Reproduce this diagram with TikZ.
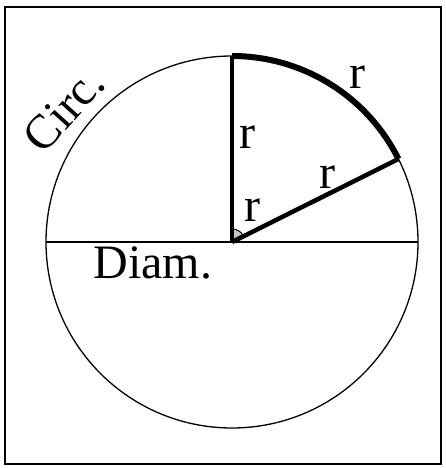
\documentclass[tikz,border=0pt]{standalone}
\usepackage{fontspec}
\setmainfont{Liberation Serif}
\usetikzlibrary{calc}
\begin{document}
\begin{tikzpicture}[x=1pt,y=1pt,
  lab/.style={font=\fontsize{48}{54}\selectfont, inner sep=0pt},
  thin line/.style={line width=1.3pt},
  thick radius/.style={line width=4.5pt}]
\useasboundingbox (0,0) rectangle (446,468);
\draw[line width=2.8pt] (5,4) rectangle (441,461);
\coordinate (O) at (232,226);
\coordinate (L) at (46,226);
\coordinate (R) at (418,226);
\coordinate (T) at (232,412);
\coordinate (P) at ($(O)+(26.5:186pt)$);
\draw[thin line] (O) circle[radius=186pt];
\draw[thin line] (L) -- (R);
\fill[gray!45] (O) -- ++(90:13pt) arc[start angle=90,end angle=26.5,radius=13pt] -- cycle;
\draw[line width=1pt] ($(O)+(90:13pt)$) arc[start angle=90,end angle=26.5,radius=13pt];
\draw[thick radius] (O) -- (T);
\draw[thick radius] (O) -- (P);
\draw[line width=6pt] (T) arc[start angle=90,end angle=26.5,radius=186pt];
\node[lab] (rv) at (247,331) {r};
\node[lab] (ra) at (357,391) {r};
\node[lab] (rs) at (327,291) {r};
\node[lab] (rc) at (252,258) {r};
\node[lab] (diam) at (153,205.5) {Diam.};
\node[lab, rotate=48] (circ) at (64,358) {Circ.};
\end{tikzpicture}
\end{document}
